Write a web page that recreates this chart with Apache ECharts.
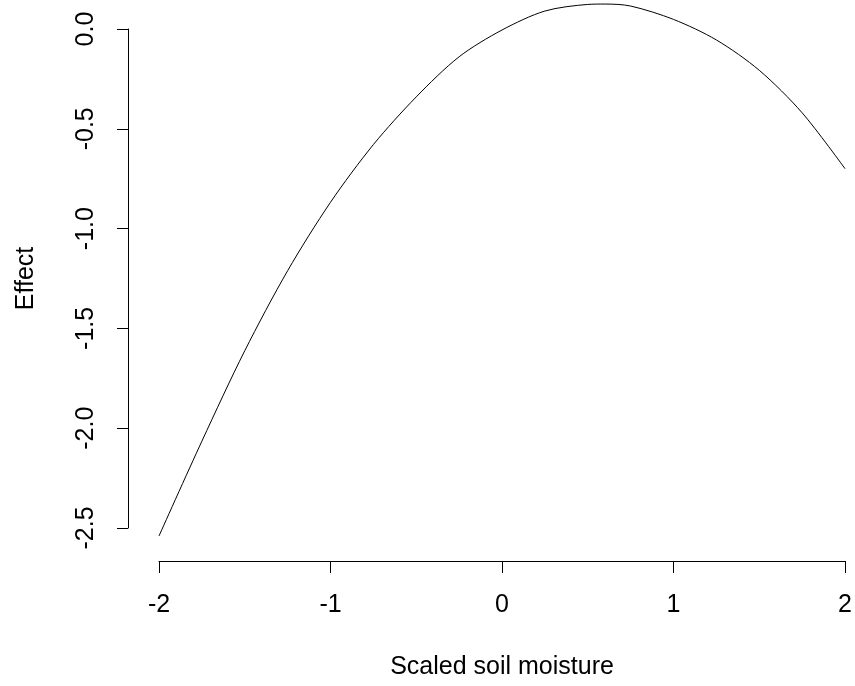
<!DOCTYPE html>
<html>
<head>
<meta charset="utf-8">
<title>Effect vs scaled soil moisture</title>
<script src="https://cdn.jsdelivr.net/npm/echarts@6/dist/echarts.min.js"></script>
<style>
  html, body { margin: 0; padding: 0; background: #fff; }
  #chart { width: 855px; height: 686px; }
</style>
</head>
<body>
<div id="chart"></div>
<script>
// 曲线数据
const moisture = [-2, -1.75, -1.5, -1.25, -1, -0.75, -0.5, -0.25, 0, 0.25, 0.5, 0.6, 0.75, 1, 1.25, 1.5, 1.75, 2];
const effect = [-2.54, -2.065, -1.612, -1.211, -0.868, -0.579, -0.34, -0.139, -0.005, 0.09, 0.123, 0.125, 0.115, 0.048, -0.055, -0.207, -0.42, -0.70];

const xTicks = [-2, -1, 0, 1, 2];
const yTicks = [-2.5, -2, -1.5, -1, -0.5, 0];

const font = 'Liberation Sans, Arial, sans-serif';

const chart = echarts.init(document.getElementById('chart'));
chart.setOption({
    backgroundColor: '#fff',
    animation: false,
    grid: { left: 159, right: 9, top: 29, bottom: 158 },
    xAxis: {
        type: 'value',
        min: xTicks[0],
        max: xTicks[xTicks.length - 1],
        interval: 1,
        offset: 33,
        name: 'Scaled soil moisture',
        nameLocation: 'middle',
        nameGap: 94,
        nameTextStyle: { color: '#000', fontSize: 25, fontFamily: font },
        axisLine: { onZero: false, lineStyle: { color: '#000', width: 1 } },
        axisTick: { length: 12, lineStyle: { color: '#000' } },
        axisLabel: { color: '#000', fontSize: 25, fontFamily: font, margin: 32 },
        splitLine: { show: false }
    },
    yAxis: {
        type: 'value',
        min: yTicks[0],
        max: yTicks[yTicks.length - 1],
        interval: 0.5,
        offset: 31,
        name: 'Effect',
        nameLocation: 'middle',
        nameRotate: 90,
        nameGap: 89,
        nameTextStyle: { color: '#000', fontSize: 25, fontFamily: font },
        axisLine: { show: true, onZero: false, lineStyle: { color: '#000', width: 1 } },
        axisTick: { show: true, length: 11, lineStyle: { color: '#000' } },
        axisLabel: {
            color: '#000', fontSize: 25, fontFamily: font, rotate: 90, margin: 29,
            formatter: v => v.toFixed(1)
        },
        splitLine: { show: false }
    },
    series: [{
        type: 'line',
        data: moisture.map((x, i) => [x, effect[i]]),
        smooth: 0.3,
        clip: false,
        showSymbol: false,
        lineStyle: { color: '#000', width: 1 }
    }]
});
</script>
</body>
</html>
